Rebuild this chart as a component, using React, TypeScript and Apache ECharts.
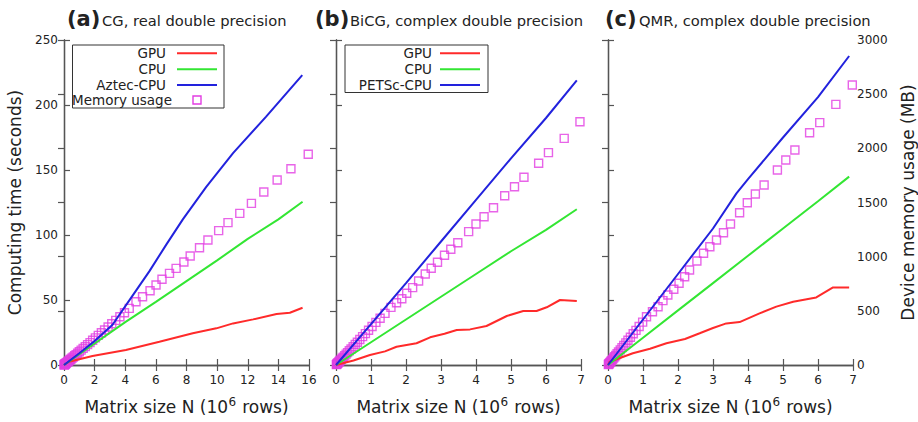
import React, { useEffect, useRef } from 'react';
import * as echarts from 'echarts';

const FONT = 'DejaVu Sans';
const RED = '#ff2a2a';
const GREEN = '#33e633';
const BLUE = '#2222dd';
const MAG = '#e23de2';
const AX = '#555555';
const TXT = '#222222';

// Panel titles
const panelTags = ['(a)', '(b)', '(c)'];
const panelTitles = ['CG, real double precision', 'BiCG, complex double precision', 'QMR, complex double precision'];
const xNameParts = ['Matrix size N (10', '6', ' rows)'];

// Axis ranges (tick labels)
const xMax = [16, 7, 7];
const xStep = [2, 1, 1];
const timeMax = 250;
const timeStep = 50;
const memMax = 3000;
const memStep = 500;

// Panel (a): CG, [N (10^6 rows), seconds]
const gpuA = [[0, 0], [0.33, 2.5], [1.86, 6.9], [4.04, 11.5], [6.23, 17.9], [8.41, 24.4], [9.95, 28.2], [11.04, 32], [12.35, 35.1], [13.88, 39.2], [14.75, 40.2], [15.58, 44]];
const cpuA = [[0, 0], [2, 16.5], [4, 33], [6, 48.5], [8, 64.5], [10, 80.5], [12, 97], [14, 112], [15.58, 125.6]];
const aztecA = [[0, 0], [1, 9], [2, 18.5], [3.17, 31], [4.4, 52], [5.57, 72], [6.7, 93], [7.76, 112], [9.29, 137], [11.04, 163], [13.2, 191], [15.56, 223]];
const memNA = [15.95, 14.82, 13.92, 13.05, 12.24, 11.48, 10.71, 10.1, 9.4, 8.85, 8.24, 7.83, 7.32, 6.89, 6.4, 6.01, 5.62, 5.13, 4.7, 4.26, 3.95, 3.65, 3.38, 3.12, 2.88, 2.65, 2.44, 2.24, 2.05, 1.87, 1.7, 1.54, 1.39, 1.25, 1.12, 1.0, 0.89, 0.79, 0.7, 0.61, 0.53, 0.46, 0.4, 0.34, 0.29, 0.24, 0.2, 0.16, 0.13, 0.1, 0.08, 0.06, 0.04, 0.03, 0.02, 0.01];
const memMBA = [1945, 1812, 1708, 1597, 1492, 1400, 1314, 1240, 1154, 1083, 1006, 951, 892, 846, 791, 738, 686, 630, 584, 523, 482, 445, 412, 381, 351, 323, 298, 273, 250, 228, 207, 188, 170, 153, 137, 122, 109, 96, 85, 74, 65, 56, 49, 41, 35, 29, 24, 20, 16, 12, 10, 7, 5, 4, 2, 1];

// Panel (b): BiCG
const gpuB = [[0, 0], [0.5, 3.5], [0.97, 7.7], [1.4, 10.5], [1.73, 14], [2.3, 16.7], [2.69, 21.3], [3.1, 24], [3.45, 26.9], [3.83, 27.4], [4.3, 30], [4.88, 37.7], [5.35, 41.5], [5.73, 41.5], [6.02, 44.4], [6.4, 50], [6.88, 49.2]];
const cpuB = [[0, 0], [1, 17.5], [2, 35], [3, 52.5], [4, 70], [5, 87.5], [6, 104], [6.88, 119.8]];
const petscB = [[0, 0], [1, 31.5], [2, 63], [3, 95], [4, 127], [5, 159], [6, 190], [6.88, 219]];
const memNB = [6.97, 6.52, 6.07, 5.79, 5.37, 5.1, 4.82, 4.5, 4.23, 4.0, 3.79, 3.48, 3.28, 3.1, 2.9, 2.72, 2.55, 2.36, 2.19, 2.02, 1.88, 1.73, 1.57, 1.4, 1.26, 1.14, 1.03, 0.93, 0.84, 0.76, 0.68, 0.61, 0.55, 0.49, 0.43, 0.38, 0.33, 0.29, 0.25, 0.21, 0.18, 0.15, 0.12, 0.1, 0.08, 0.06, 0.045, 0.03, 0.02, 0.01];
const memMBB = [2246, 2092, 1960, 1862, 1733, 1646, 1563, 1452, 1369, 1302, 1231, 1129, 1068, 1013, 948, 893, 840, 775, 714, 662, 612, 575, 532, 477, 431, 393, 355, 321, 290, 262, 235, 210, 190, 169, 148, 131, 114, 100, 86, 72, 62, 52, 41, 35, 28, 21, 16, 10, 7, 3];

// Panel (c): QMR
const gpuC = [[0, 0], [0.05, 2.5], [0.71, 9], [1.2, 12.5], [1.67, 16.7], [2.2, 20], [2.62, 24.4], [3.0, 28.5], [3.38, 32], [3.76, 33], [4.33, 39.7], [4.81, 44.9], [5.29, 48.7], [5.95, 52], [6.43, 59.7], [6.89, 59.7]];
const cpuC = [[0, 0], [1, 21], [2, 42], [3, 63], [4, 84], [5, 105], [6, 126], [6.89, 144.9]];
const blueC = [[0, 0], [1, 35], [2, 70], [3, 105], [3.67, 132], [4, 143], [5, 175], [6, 206], [6.89, 237.7]];
const memNC = [6.98, 6.51, 6.05, 5.76, 5.34, 5.08, 4.84, 4.46, 4.21, 3.98, 3.76, 3.5, 3.3, 3.1, 2.91, 2.73, 2.54, 2.33, 2.19, 2.03, 1.88, 1.71, 1.57, 1.43, 1.27, 1.1, 0.99, 0.89, 0.8, 0.72, 0.64, 0.57, 0.51, 0.45, 0.4, 0.35, 0.3, 0.26, 0.22, 0.19, 0.16, 0.13, 0.1, 0.08, 0.06, 0.045, 0.03, 0.02, 0.01];
const memMBC = [2585, 2406, 2237, 2144, 1985, 1892, 1800, 1662, 1578, 1498, 1406, 1302, 1221, 1154, 1092, 1031, 960, 877, 815, 754, 699, 646, 594, 538, 492, 446, 396, 356, 320, 288, 256, 228, 204, 180, 160, 140, 120, 104, 88, 76, 64, 52, 40, 32, 24, 18, 12, 8, 4];

const legendA = ['GPU', 'CPU', 'Aztec-CPU', 'Memory usage'];
const legendB = ['GPU', 'CPU', 'PETSc-CPU'];

const panels = [
  { lines: [gpuA, cpuA, aztecA], memN: memNA, memMB: memMBA },
  { lines: [gpuB, cpuB, petscB], memN: memNB, memMB: memMBB },
  { lines: [gpuC, cpuC, blueC], memN: memNC, memMB: memMBC },
];
const lineColors = [RED, GREEN, BLUE];

const grids = [
  { left: 64, right: 609, top: 40, bottom: 57 },
  { left: 336, right: 337, top: 40, bottom: 57 },
  { left: 608, right: 65, top: 40, bottom: 57 },
];
const W = 918;

export default function App() {
  const ref = useRef<HTMLDivElement>(null);
  useEffect(() => {
    document.body.style.margin = '0';
    const chart = echarts.init(ref.current!, null, { renderer: 'svg' });
    const axLine = { show: true, lineStyle: { color: AX, width: 1.3 } };
    const axTick = { show: true, inside: true, length: 6, lineStyle: { color: AX, width: 1.2 } };
    const plain = (v: number) => String(v);
    const xAxis: any[] = [];
    const yAxis: any[] = [];
    const series: any[] = [];
    for (let i = 0; i < 3; i++) {
      xAxis.push({
        gridIndex: i, type: 'value', position: 'bottom', min: 0, max: xMax[i], interval: xStep[i],
        axisLine: axLine, axisTick: axTick, splitLine: { show: false },
        axisLabel: { fontSize: 12, color: TXT, margin: 9, fontFamily: FONT, formatter: plain },
      });
      xAxis.push({
        gridIndex: i, type: 'value', position: 'top', min: 0, max: xMax[i], interval: xStep[i],
        axisLine: axLine, axisTick: axTick, splitLine: { show: false }, axisLabel: { show: false },
      });
      yAxis.push({
        gridIndex: i, type: 'value', position: 'left', min: 0, max: timeMax, interval: timeStep,
        axisLine: axLine, axisTick: axTick, splitLine: { show: false },
        axisLabel: { show: i === 0, fontSize: 12, color: TXT, margin: 6, fontFamily: FONT, formatter: plain },
        name: i === 0 ? 'Computing time (seconds)' : '', nameLocation: 'middle', nameRotate: 90, nameGap: 41,
        nameTextStyle: { fontSize: 17, color: TXT, fontFamily: FONT },
      });
      yAxis.push({
        gridIndex: i, type: 'value', position: 'right', min: 0, max: memMax, interval: memStep,
        axisLine: axLine, axisTick: axTick, splitLine: { show: false },
        axisLabel: { show: i === 2, fontSize: 12, color: TXT, margin: 4, fontFamily: FONT, formatter: plain },
        name: i === 2 ? 'Device memory usage (MB)' : '', nameLocation: 'middle', nameRotate: 90, nameGap: 46,
        nameTextStyle: { fontSize: 17, color: TXT, fontFamily: FONT },
      });
      const p = panels[i];
      p.lines.forEach((d, k) => {
        series.push({
          type: 'line', xAxisIndex: 2 * i, yAxisIndex: 2 * i, data: d, symbol: 'none', showSymbol: false,
          lineStyle: { color: lineColors[k], width: 2 }, silent: true,
        });
      });
      series.push({
        type: 'scatter', xAxisIndex: 2 * i, yAxisIndex: 2 * i + 1,
        data: p.memN.map((n, k) => [n, p.memMB[k]]),
        symbol: 'rect', symbolSize: 8,
        itemStyle: { color: 'rgba(0,0,0,0)', borderColor: MAG, borderWidth: 1.4 }, silent: true,
      });
    }

    const txt = (x: number, y: number, text: string, size: number, align: string, weight = 'normal') => ({
      type: 'text', x, y,
      style: {
        text, fontSize: size, fontFamily: FONT, fontWeight: weight, fill: TXT,
        align, textAlign: align, verticalAlign: 'middle', textVerticalAlign: 'middle',
      },
    });
    const seg = (x1: number, x2: number, y: number, color: string) => ({
      type: 'line', shape: { x1, y1: y, x2, y2: y }, style: { stroke: color, lineWidth: 2 },
    });

    // measure text for the x-axis names with superscript
    const ctx = document.createElement('canvas').getContext('2d')!;
    const measure = (t: string, size: number) => {
      ctx.font = `${size}px "${FONT}"`;
      return ctx.measureText(t).width;
    };
    const nameSize = 17;
    const supSize = 12;
    const w1 = measure(xNameParts[0], nameSize);
    const w2 = measure(xNameParts[1], supSize) + 1;
    const w3 = measure(xNameParts[2], nameSize);
    const total = w1 + w2 + w3;

    const tagX = [67, 315, 605];
    const titleX = [102, 350, 639];
    const graphic: any[] = [];
    for (let i = 0; i < 3; i++) {
      graphic.push(txt(tagX[i], 19, panelTags[i], 21, 'left', 'bold'));
      graphic.push(txt(titleX[i], 20, panelTitles[i], 14.7, 'left'));
      const g = grids[i];
      const cx = (g.left + (W - g.right)) / 2;
      const x0 = cx - total / 2;
      graphic.push(txt(x0, 407, xNameParts[0], nameSize, 'left'));
      graphic.push(txt(x0 + w1 + 0.5, 402, xNameParts[1], supSize, 'left'));
      graphic.push(txt(x0 + w1 + w2, 407, xNameParts[2], nameSize, 'left'));
    }
    // legend (a)
    graphic.push({ type: 'rect', shape: { x: 72.5, y: 45, width: 151.5, height: 63 }, style: { fill: '#fff', stroke: '#333', lineWidth: 1 } });
    const legYA = [53.3, 69.3, 85, 100];
    legendA.forEach((t, k) => {
      graphic.push(txt(k === 3 ? 172 : 166, legYA[k], t, 13.5, 'right'));
      if (k < 3) graphic.push(seg(177, 217, legYA[k], lineColors[k]));
    });
    graphic.push({ type: 'rect', shape: { x: 193, y: 96, width: 8, height: 8 }, style: { fill: 'none', stroke: MAG, lineWidth: 1.4 } });
    // legend (b)
    graphic.push({ type: 'rect', shape: { x: 345, y: 45, width: 143, height: 47.5 }, style: { fill: '#fff', stroke: '#333', lineWidth: 1 } });
    const legYB = [53.3, 69.3, 85];
    legendB.forEach((t, k) => {
      graphic.push(txt(432, legYB[k], t, 13.5, 'right'));
      graphic.push(seg(440, 480, legYB[k], lineColors[k]));
    });

    chart.setOption({
      animation: false,
      backgroundColor: '#ffffff',
      textStyle: { fontFamily: FONT },
      grid: grids.map((g) => ({ ...g, outerBoundsMode: 'none' })),
      xAxis, yAxis, series, graphic,
    });
    return () => chart.dispose();
  }, []);
  return <div ref={ref} style={{ width: 918, height: 422 }} />;
}
